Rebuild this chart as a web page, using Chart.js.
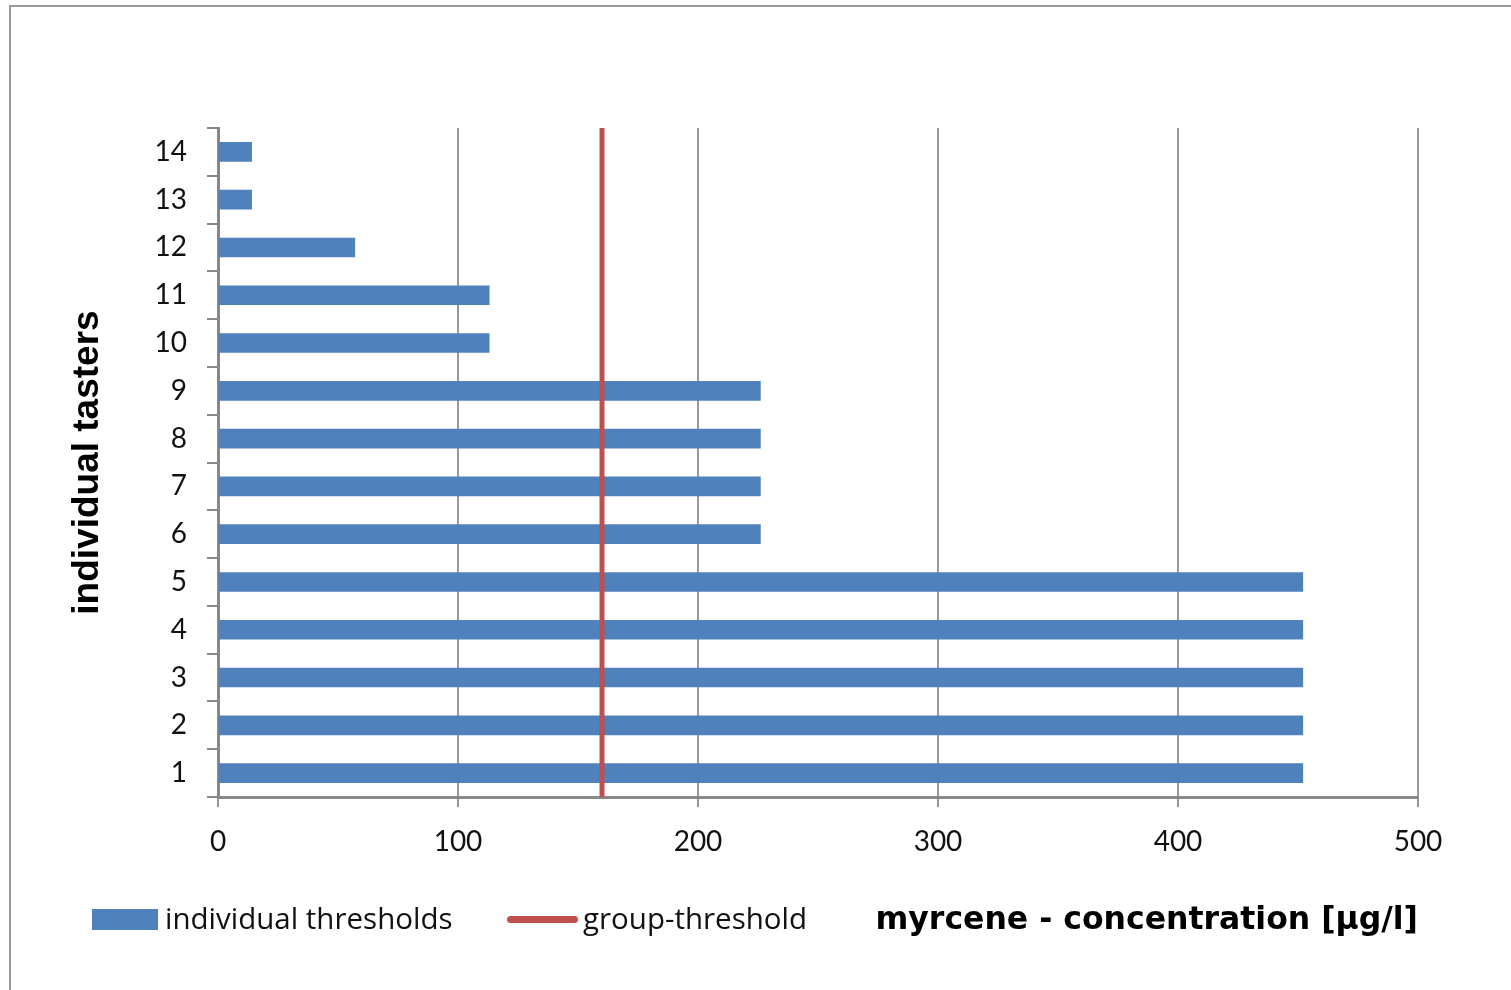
<!DOCTYPE html>
<html>
<head>
<meta charset="utf-8">
<script src="https://cdn.jsdelivr.net/npm/chart.js@4.4.1/dist/chart.umd.min.js"></script>
<style>
  body { margin: 0; background: #fff; overflow: hidden; }
  #frame { position: absolute; left: 9px; top: 5px; width: 1540px; height: 1040px; border: 2px solid #9a9a9a; box-sizing: border-box; }
  #wrap { position: absolute; left: 0; top: 0; width: 1511px; height: 990px; }
  .leg { position: absolute; top: 900px; font-family: "Open Sans", Lato, sans-serif; font-size: 29.5px; color: #111; height: 36px; line-height: 36px; white-space: nowrap; }
  .sw { display: inline-block; vertical-align: middle; }
</style>
</head>
<body>
<div id="frame"></div>
<div id="wrap"><canvas id="chart"></canvas></div>
<div class="leg" style="left:92px"><span class="sw" style="width:66px;height:21px;background:#4F81BD;margin-right:7px;margin-top:-4px"></span>individual thresholds</div>
<div class="leg" style="left:507px"><span class="sw" style="width:71px;height:7px;border-radius:4px;background:#C0504D;margin-right:5px;margin-top:-4px"></span>group-threshold</div>
<script>
Chart.defaults.font.family = 'Lato, "Open Sans", sans-serif';
Chart.defaults.color = '#111';

const tasters = ['1','2','3','4','5','6','7','8','9','10','11','12','13','14']
const thresholds = [452, 452, 452, 452, 452, 226, 226, 226, 226, 113, 113, 57, 14, 14]
const groupThreshold = 160
const xTicks = [0, 100, 200, 300, 400, 500]

const data = {
    labels: tasters,
    datasets: [{
        label: 'individual thresholds',
        type: 'bar',
        data: thresholds,
        backgroundColor: '#4F81BD',
        barThickness: 19,
        grouped: false,
        order: 2,
    }, {
        label: 'group-threshold',
        type: 'line',
        indexAxis: 'x',
        xAxisID: 'x',
        yAxisID: 'y2',
        data: [{x: groupThreshold, y: 0}, {x: groupThreshold, y: 1}],
        borderColor: '#C0504D',
        borderWidth: 5,
        pointRadius: 0,
        order: 1,
    }],
};

const config = {
    data: data,
    options: {
        indexAxis: 'y',
        responsive: true,
        maintainAspectRatio: false,
        animation: false,
        layout: { padding: { left: 54, top: 128, right: 93, bottom: 0 } },
        plugins: { legend: { display: false }, tooltip: { enabled: false } },
        scales: {
            x: {
                type: 'linear',
                min: xTicks[0],
                max: xTicks[xTicks.length - 1],
                afterBuildTicks: (s) => { s.ticks = xTicks.map(v => ({value: v})) },
                afterFit: (s) => { s.height = 193 },
                grid: { color: '#999', lineWidth: 2, tickLength: 10, drawTicks: true },
                border: { color: '#888', width: 3 },
                ticks: { font: { size: 28 }, padding: 18, color: '#111' },
                title: {
                    display: true,
                    text: 'myrcene - concentration [µg/l]',
                    align: 'end',
                    font: { family: '"DejaVu Sans"', size: 31.5, weight: 'bold' },
                    color: '#000',
                    padding: { top: 0, bottom: 50 },
                },
            },
            y: {
                type: 'category',
                reverse: true,
                afterFit: (s) => { s.width = 164 },
                grid: { drawOnChartArea: false, color: '#888', lineWidth: 2, tickLength: 11, offset: true },
                border: { color: '#888', width: 3 },
                ticks: { font: { size: 28 }, padding: 20, color: '#111' },
                title: {
                    display: true,
                    text: 'individual tasters',
                    font: { family: '"Liberation Sans"', size: 37, weight: 'bold' },
                    color: '#000',
                    padding: { top: 12, bottom: 0 },
                },
            },
            y2: {
                type: 'linear',
                display: false,
                min: 0,
                max: 1,
            },
        },
    },
};

const chart = new Chart(document.getElementById('chart'), config);
</script>
</body>
</html>
